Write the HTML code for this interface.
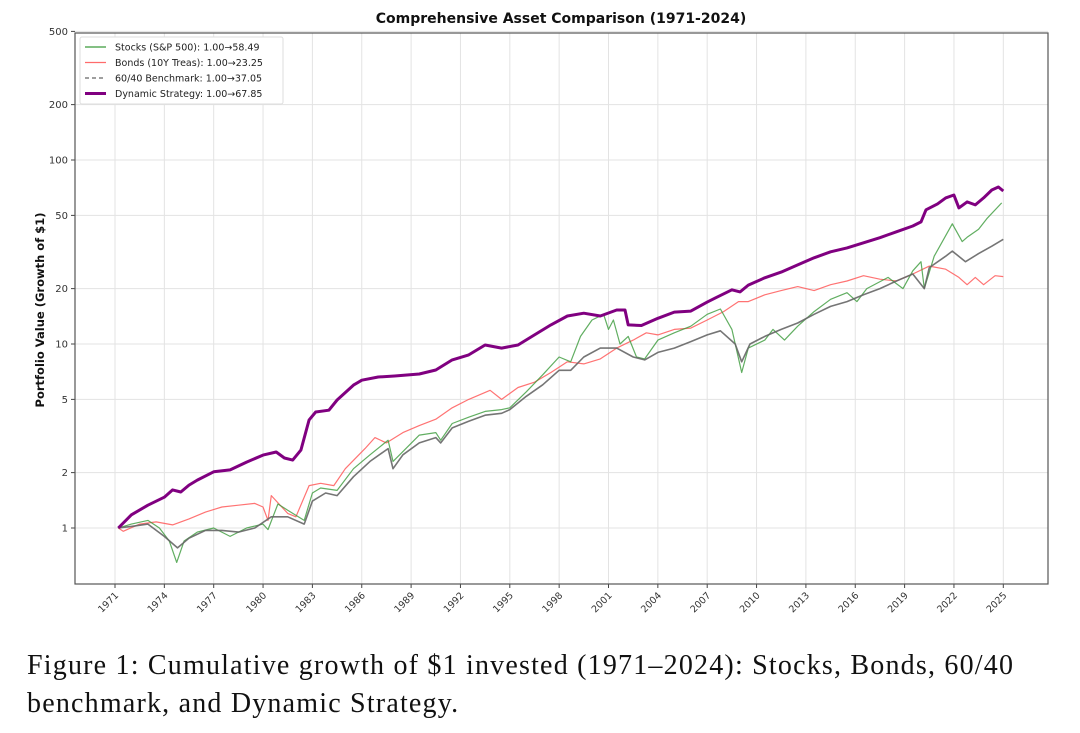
<!DOCTYPE html>
<html><head><meta charset="utf-8"><style>
body{margin:0;background:#fff;width:1080px;height:733px;overflow:hidden}
svg text{font-family:"DejaVu Sans","Liberation Sans",sans-serif}
.cap{position:absolute;left:27px;top:647px;font-family:"Liberation Serif",serif;font-size:28px;letter-spacing:1.2px;line-height:38px;color:#111;white-space:nowrap}
</style></head><body>
<svg id="chart" width="1080" height="733" style="position:absolute;left:0;top:0"></svg>
<div class="cap">Figure 1: Cumulative growth of $1 invested (1971–2024): Stocks, Bonds, 60/40<br>benchmark, and Dynamic Strategy.</div>
<script>
const yTicks=[1,2,5,10,20,50,100,200,500];
const xTicks=[1971,1974,1977,1980,1983,1986,1989,1992,1995,1998,2001,2004,2007,2010,2013,2016,2019,2022,2025];
const dynT=[1971.2,1972,1973,1974,1974.5,1975,1975.5,1976,1977,1978,1979,1980,1980.8,1981.3,1981.8,1982.3,1982.8,1983.2,1984,1984.5,1985.5,1986,1987,1988,1989.5,1990.5,1991.5,1992.5,1993.5,1994.5,1995.5,1996.5,1997.5,1998.5,1999.5,2000.5,2001.5,2002,2002.2,2003,2004,2005,2006,2007,2007.5,2008.5,2009,2009.5,2010.5,2011.5,2012.5,2013.5,2014.5,2015.5,2016.5,2017.5,2018.5,2019.5,2020,2020.3,2021,2021.5,2022,2022.3,2022.8,2023.3,2023.8,2024.3,2024.7,2025];
const dynV=[1,1.18,1.33,1.47,1.61,1.57,1.71,1.82,2.02,2.07,2.28,2.49,2.59,2.4,2.34,2.65,3.87,4.27,4.37,4.96,5.98,6.36,6.62,6.7,6.87,7.22,8.2,8.72,9.87,9.5,9.87,11.2,12.7,14.2,14.7,14.2,15.3,15.3,12.7,12.6,13.8,14.9,15.1,16.9,17.8,19.7,19.2,20.9,22.9,24.6,26.9,29.4,31.7,33.3,35.5,37.8,40.7,43.8,46.1,53.6,57.7,62.2,64.5,54.9,59.2,57,62.2,68.7,71.3,67.85];
const stkT=[1971.2,1972,1973,1973.7,1974.3,1974.75,1975.2,1976,1977,1978,1979,1980,1980.3,1980.9,1981.5,1982.5,1983,1983.5,1984.5,1985.5,1986.5,1987.6,1987.9,1988.5,1989.5,1990.5,1990.8,1991.5,1992.5,1993.5,1994.5,1995,1996,1997,1998,1998.7,1999.3,2000,2000.7,2001,2001.3,2001.7,2002.2,2002.7,2003.2,2004,2005,2006,2007,2007.8,2008.5,2009.1,2009.5,2010.5,2011,2011.7,2012.5,2013.5,2014.5,2015.5,2016.1,2016.7,2018,2018.9,2019.5,2020,2020.2,2020.8,2021.9,2022.5,2022.8,2023.5,2024,2024.9];
const stkV=[1,1.05,1.1,1.0,0.85,0.65,0.85,0.95,1.0,0.9,1.0,1.05,0.98,1.35,1.25,1.1,1.55,1.65,1.6,2.1,2.5,3.0,2.3,2.6,3.2,3.3,3.0,3.7,4.0,4.3,4.4,4.5,5.5,6.8,8.5,8.0,11,13.5,14.5,12,13.5,10,11,8.5,8.3,10.5,11.5,12.5,14.5,15.5,12,7.0,9.5,10.5,12,10.5,12.5,15,17.5,19,17,20,23,20,25,28,20,30,45,36,38,42,48,58.49];
const bndT=[1971.2,1971.5,1972.5,1973.5,1974.5,1975.5,1976.5,1977.5,1978.5,1979.5,1980,1980.3,1980.5,1981.5,1982,1982.8,1983.5,1984.3,1985,1986.2,1986.8,1987.5,1988.5,1989.5,1990.5,1991.5,1992.5,1993.8,1994.5,1995.5,1996.5,1997.5,1998.5,1999.5,2000.5,2001.5,2002.5,2003.3,2004,2005,2006,2007,2008,2008.9,2009.5,2010.5,2011.5,2012.5,2013.5,2014.5,2015.5,2016.5,2017.5,2018.5,2019.5,2020.5,2021.5,2022.3,2022.8,2023.3,2023.8,2024.5,2025];
const bndV=[1,0.96,1.05,1.08,1.04,1.12,1.22,1.3,1.33,1.36,1.3,1.1,1.5,1.2,1.15,1.7,1.75,1.7,2.1,2.7,3.1,2.9,3.3,3.6,3.9,4.5,5.0,5.6,5.0,5.8,6.2,7.0,8.0,7.8,8.3,9.5,10.5,11.5,11.2,12,12.2,13.5,15,17,17,18.5,19.5,20.5,19.5,21,22,23.5,22.5,22,24,26.5,25.5,23,21,23,21,23.5,23.25];
const bmT=[1971.2,1972,1973,1974,1974.8,1975.5,1976.5,1977.5,1978.5,1979.5,1980.5,1981.5,1982.5,1983,1983.8,1984.5,1985.5,1986.5,1987.6,1987.9,1988.5,1989.5,1990.5,1990.8,1991.5,1992.5,1993.5,1994.5,1995,1996,1997,1998,1998.7,1999.5,2000.5,2001.5,2002.5,2003.2,2004,2005,2006,2007,2007.8,2008.7,2009.1,2009.6,2010.5,2011.5,2012.5,2013.5,2014.5,2015.5,2016.5,2017.5,2018.5,2019.5,2020.2,2020.5,2021.5,2021.9,2022.7,2023.5,2024.3,2025];
const bmV=[1,1.02,1.05,0.9,0.78,0.88,0.97,0.97,0.95,1.0,1.15,1.15,1.05,1.4,1.55,1.5,1.9,2.3,2.7,2.1,2.5,2.9,3.1,2.9,3.5,3.8,4.1,4.2,4.4,5.2,6.0,7.2,7.2,8.5,9.5,9.5,8.5,8.2,9.0,9.5,10.3,11.2,11.8,10,8.0,10,11,12,13,14.5,16,17,18.5,20,22,24,20,26,30,32,28,31,34,37.05];

const L=75,R=1048,T=33,B=584;
const X=y=>115+(y-1971)*16.45;
const Y=v=>528-Math.log10(v)*184;
const svg=document.getElementById('chart');
const NS='http://www.w3.org/2000/svg';
function mk(tag,at,parent){const e=document.createElementNS(NS,tag);for(const k in at)e.setAttribute(k,at[k]);(parent||svg).appendChild(e);return e;}
let e;
e=mk('rect',{x:L,y:T,width:R-L,height:B-T,fill:'#fff'});


yTicks.forEach(v=>{
 e=mk('line',{x1:L,x2:R,y1:Y(v),y2:Y(v),stroke:'#e3e3e3','stroke-width':1});
 
 
 mk('line',{x1:L-4,x2:L,y1:Y(v),y2:Y(v),stroke:'#444'});
 e=mk('text',{x:L-7,y:Y(v)+3.5,'text-anchor':'end','font-size':10,fill:'#333'});e.textContent=v;
 
 
});
xTicks.forEach(t=>{
 e=mk('line',{x1:X(t),x2:X(t),y1:T,y2:B,stroke:'#e3e3e3','stroke-width':1});
 
 
 mk('line',{x1:X(t),x2:X(t),y1:B,y2:B+4,stroke:'#444'});
 e=mk('text',{x:X(t)+4,y:B+12,'text-anchor':'end','font-size':9.5,fill:'#333',transform:`rotate(-45 ${X(t)+4} ${B+12})`});e.textContent=t;
 
 
});
function line(ts,vs,col,w,op,name,dash){
 const d=ts.map((t,i)=>(i?'L':'M')+X(t).toFixed(1)+' '+Y(vs[i]).toFixed(1)).join(' ');
 const p=mk('path',{d,fill:'none',stroke:col,'stroke-width':w,'stroke-opacity':op,'stroke-linejoin':'round'});
 if(dash)p.setAttribute('stroke-dasharray',dash);
 
 
}
line(bndT,bndV,'#ff5a5a',1.2,0.85,'bonds-line');
line(stkT,stkV,'#3a9a3a',1.2,0.8,'stocks-line');
line(bmT,bmV,'#666',1.6,0.9,'benchmark-line');
line(dynT,dynV,'#800080',3,1,'dynamic-strategy-line');
e=mk('rect',{x:L,y:T,width:R-L,height:B-T,fill:'none',stroke:'#555','stroke-width':1.2});


e=mk('text',{x:561,y:23,'text-anchor':'middle','font-size':14,'font-weight':'bold',fill:'#111'});e.textContent='Comprehensive Asset Comparison (1971-2024)';


e=mk('text',{x:44,y:310,'text-anchor':'middle','font-size':11.5,'font-weight':'bold',fill:'#111',transform:'rotate(-90 44 310)'});e.textContent='Portfolio Value (Growth of $1)';


const lg=mk('g',{});


mk('rect',{x:80,y:37,width:203,height:67,fill:'#fff',stroke:'#ddd',rx:2},lg);
const items=[['Stocks (S&P 500): 1.00→58.49','#3a9a3a',1.2,null,'legend-entry-stocks'],['Bonds (10Y Treas): 1.00→23.25','#ff6b6b',1.2,null,'legend-entry-bonds'],['60/40 Benchmark: 1.00→37.05','#666',1.3,'4 3','legend-entry-benchmark'],['Dynamic Strategy: 1.00→67.85','#800080',3,null,'legend-entry-dynamic']];
items.forEach((it,i)=>{
 const y=47+i*15.5;
 const g=mk('g',{},lg);
 
 
 const l=mk('line',{x1:85,x2:106,y1:y,y2:y,stroke:it[1],'stroke-width':it[2]},g);
 if(it[3])l.setAttribute('stroke-dasharray',it[3]);
 const t=mk('text',{x:115,y:y+3.5,'font-size':9.5,fill:'#222'},g);t.textContent=it[0];
});
</script>
</body></html>
